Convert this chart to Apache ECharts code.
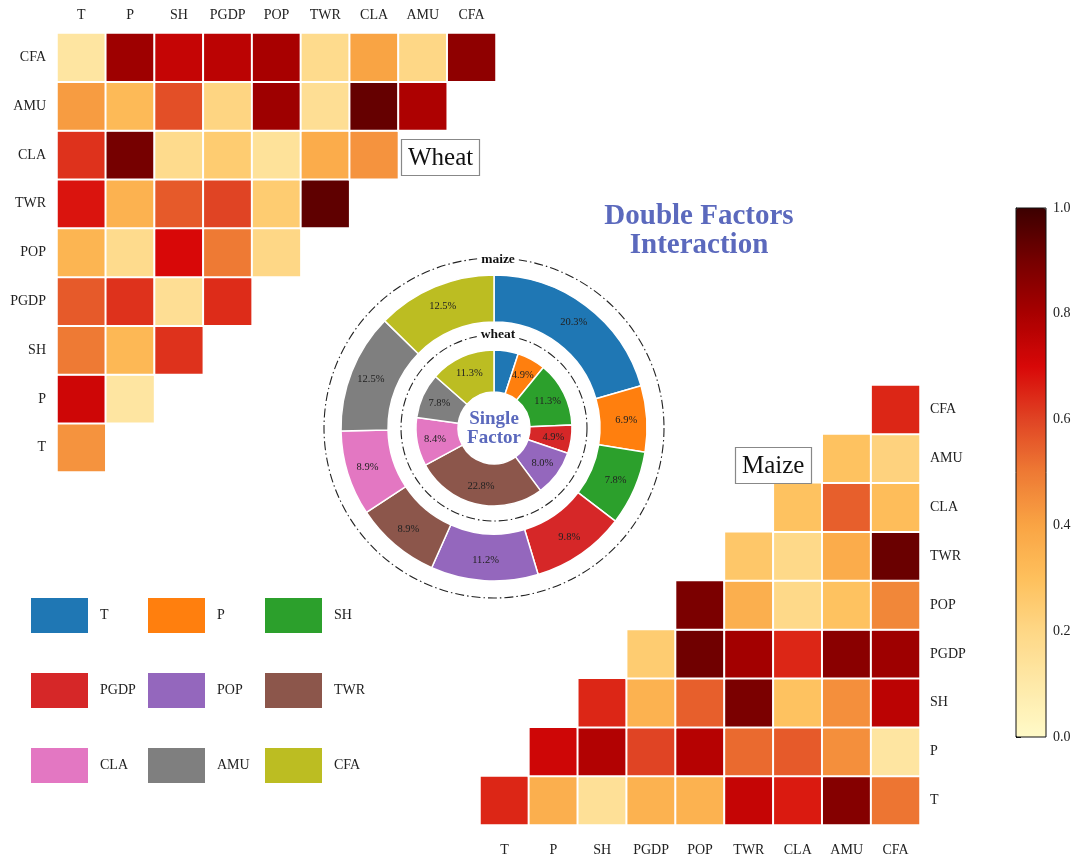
<!DOCTYPE html>
<html>
<head>
<meta charset="utf-8">
<script src="https://cdn.jsdelivr.net/npm/echarts@6.0.0/dist/echarts.min.js"></script>
<style>html,body{margin:0;padding:0;background:#fff}#c{width:1080px;height:867px}</style>
</head>
<body>
<div id="c"></div>
<script>
// ---- data ----
const factors = ['T','P','SH','PGDP','POP','TWR','CLA','AMU','CFA'];
// wheat: row per factor (y), values for x = T .. that factor
const wheatT    = [0.44];
const wheatP    = [0.72, 0.12];
const wheatSH   = [0.50, 0.33, 0.63];
const wheatPGDP = [0.56, 0.63, 0.16, 0.64];
const wheatPOP  = [0.34, 0.18, 0.70, 0.50, 0.20];
const wheatTWR  = [0.68, 0.35, 0.56, 0.60, 0.25, 0.94];
const wheatCLA  = [0.63, 0.90, 0.18, 0.25, 0.14, 0.37, 0.44];
const wheatAMU  = [0.42, 0.32, 0.58, 0.21, 0.82, 0.16, 0.93, 0.79];
const wheatCFA  = [0.12, 0.82, 0.74, 0.76, 0.80, 0.18, 0.40, 0.20, 0.85];
// maize: row per factor (y), values for x = that factor .. CFA
const maizeT    = [0.65, 0.36, 0.15, 0.35, 0.35, 0.74, 0.67, 0.87, 0.51];
const maizeP    = [0.72, 0.78, 0.60, 0.77, 0.53, 0.56, 0.45, 0.12];
const maizeSH   = [0.65, 0.35, 0.55, 0.89, 0.29, 0.45, 0.76];
const maizePGDP = [0.25, 0.91, 0.81, 0.65, 0.86, 0.82];
const maizePOP  = [0.89, 0.36, 0.19, 0.29, 0.47];
const maizeTWR  = [0.27, 0.19, 0.37, 0.92];
const maizeCLA  = [0.29, 0.55, 0.31];
const maizeAMU  = [0.29, 0.22];
const maizeCFA  = [0.65];
// single factor shares (%)
const maizeShare = [20.3, 6.9, 7.8, 9.8, 11.2, 8.9, 8.9, 12.5, 12.5];
const wheatShare = [4.2, 4.9, 11.3, 4.9, 8.0, 22.8, 8.4, 7.8, 11.3];
const colorTicks = [0, 0.2, 0.4, 0.6, 0.8, 1.0];

// ---- build ----
const wheatRows = [wheatT, wheatP, wheatSH, wheatPGDP, wheatPOP, wheatTWR, wheatCLA, wheatAMU, wheatCFA];
const maizeRows = [maizeT, maizeP, maizeSH, maizePGDP, maizePOP, maizeTWR, maizeCLA, maizeAMU, maizeCFA];
const wheatData = [], maizeData = [];
wheatRows.forEach((row, y) => row.forEach((v, x) => wheatData.push([x, y, v])));
maizeRows.forEach((row, y) => row.forEach((v, i) => maizeData.push([y + i, y, v])));

const palette = ['#1f77b4','#ff7f0e','#2ca02c','#d62728','#9467bd','#8c564b','#e377c2','#7f7f7f','#bcbd22'];
const serif = 'Liberation Serif';
const titleBlue = '#5b69bd';
const cx = 494, cy = 428;

const lbl = (margin) => ({fontFamily: serif, fontSize: 14, color: '#222', margin: margin});
const catAxis = (extra) => Object.assign({
  type: 'category', data: factors,
  axisLine: {show: false}, axisTick: {show: false}, splitLine: {show: false}
}, extra);
const pieLabel = {position: 'inside', formatter: p => p.value.toFixed(1) + '%',
  fontFamily: serif, fontSize: 10.5, color: '#222'};

const chart = echarts.init(document.getElementById('c'));
chart.setOption({
  animation: false,
  color: palette,
  grid: [
    {left: 57, top: 33, width: 439, height: 439},
    {left: 480, top: 385, width: 440, height: 440},
    {left: 1016, top: 208, width: 30, height: 529, show: true, z: 10,
     backgroundColor: 'transparent', borderColor: '#111', borderWidth: 1}
  ],
  xAxis: [
    catAxis({gridIndex: 0, position: 'top', axisLabel: lbl(11)}),
    catAxis({gridIndex: 1, position: 'bottom', axisLabel: lbl(18)}),
    {gridIndex: 2, type: 'value', show: false, min: 0, max: 1}
  ],
  yAxis: [
    catAxis({gridIndex: 0, position: 'left', axisLabel: lbl(11)}),
    catAxis({gridIndex: 1, position: 'right', axisLabel: lbl(10)}),
    {gridIndex: 2, type: 'value', position: 'right', min: 0, max: 1, interval: 0.2,
     axisLine: {show: true, lineStyle: {color: '#111', width: 1}},
     axisTick: {show: true, length: 5, lineStyle: {color: '#111'}},
     splitLine: {show: false},
     axisLabel: {fontFamily: serif, fontSize: 14, color: '#222', margin: 7,
       formatter: v => colorTicks.indexOf(Math.round(v * 10) / 10) >= 0 ? v.toFixed(1) : ''}}
  ],
  visualMap: {
    type: 'continuous', min: 0, max: 1, seriesIndex: [0, 1],
    calculable: false, hoverLink: false,
    left: 1016, top: 208, itemWidth: 30, itemHeight: 529, padding: 0,
    text: null, z: 2,
    inRange: {color: ['#fffac8','#fee9a8','#fed786','#fec05c','#f9a444','#ee7a34','#e04424','#d80808','#a80000','#760000','#3c0000']}
  },
  legend: [
    {data: ['T','PGDP','CLA'], left: 29, top: 596},
    {data: ['P','POP','AMU'], left: 146, top: 596},
    {data: ['SH','TWR','CFA'], left: 263, top: 596}
  ].map(l => Object.assign({
    orient: 'vertical', itemWidth: 59, itemHeight: 37, itemGap: 36, icon: 'rect',
    selectedMode: false, padding: 0,
    textStyle: {fontFamily: serif, fontSize: 14, color: '#222', padding: [0, 0, 0, 6]}
  }, l)),
  title: [
    {text: 'Double Factors\nInteraction', left: 699, top: 202, textAlign: 'center', padding: 0,
     textStyle: {fontFamily: serif, fontSize: 29, fontWeight: 'bold', color: titleBlue, lineHeight: 29}},
    {text: 'Single\nFactor', left: cx, top: cy - 18, textAlign: 'center', padding: 0,
     textStyle: {fontFamily: serif, fontSize: 19, fontWeight: 'bold', color: titleBlue, lineHeight: 19}},
    {text: 'Wheat', left: 401, top: 139, padding: [7, 7, 5, 7], borderColor: '#888', borderWidth: 1.2,
     backgroundColor: '#fff', textStyle: {fontFamily: serif, fontSize: 25, fontWeight: 'normal', color: '#111'}},
    {text: 'Maize', left: 735, top: 447, padding: [7, 7, 5, 7], borderColor: '#888', borderWidth: 1.2,
     backgroundColor: '#fff', textStyle: {fontFamily: serif, fontSize: 25, fontWeight: 'normal', color: '#111'}},
    {text: 'maize', left: cx, top: cy - 175, textAlign: 'center', padding: [0, 4], backgroundColor: '#fff',
     textStyle: {fontFamily: serif, fontSize: 13.5, fontWeight: 'bold', color: '#111'}},
    {text: 'wheat', left: cx, top: cy - 100, textAlign: 'center', padding: [0, 4], backgroundColor: '#fff',
     textStyle: {fontFamily: serif, fontSize: 13.5, fontWeight: 'bold', color: '#111'}}
  ],
  graphic: [
    {type: 'circle', z: 1, shape: {cx: cx, cy: cy, r: 170},
     style: {fill: 'none', stroke: '#222', lineWidth: 1.1, lineDash: [9, 3, 1.5, 3]}},
    {type: 'circle', z: 1, shape: {cx: cx, cy: cy, r: 93},
     style: {fill: 'none', stroke: '#222', lineWidth: 1.1, lineDash: [9, 3, 1.5, 3]}}
  ],
  series: [
    {type: 'heatmap', xAxisIndex: 0, yAxisIndex: 0, data: wheatData,
     itemStyle: {borderColor: '#fff', borderWidth: 2}, emphasis: {disabled: true}},
    {type: 'heatmap', xAxisIndex: 1, yAxisIndex: 1, data: maizeData,
     itemStyle: {borderColor: '#fff', borderWidth: 2}, emphasis: {disabled: true}},
    {type: 'pie', name: 'maize', center: [cx, cy], radius: [106, 153], startAngle: 90, clockwise: true,
     data: factors.map((f, i) => ({name: f, value: maizeShare[i]})),
     itemStyle: {borderColor: '#fff', borderWidth: 1.5},
     label: pieLabel, labelLine: {show: false}, emphasis: {disabled: true}, avoidLabelOverlap: false},
    {type: 'pie', name: 'wheat', center: [cx, cy], radius: [36, 78], startAngle: 90, clockwise: true,
     data: factors.map((f, i) => ({name: f, value: wheatShare[i]})),
     itemStyle: {borderColor: '#fff', borderWidth: 1.5},
     label: pieLabel, labelLine: {show: false}, emphasis: {disabled: true}, avoidLabelOverlap: false}
  ]
});
</script>
</body>
</html>
